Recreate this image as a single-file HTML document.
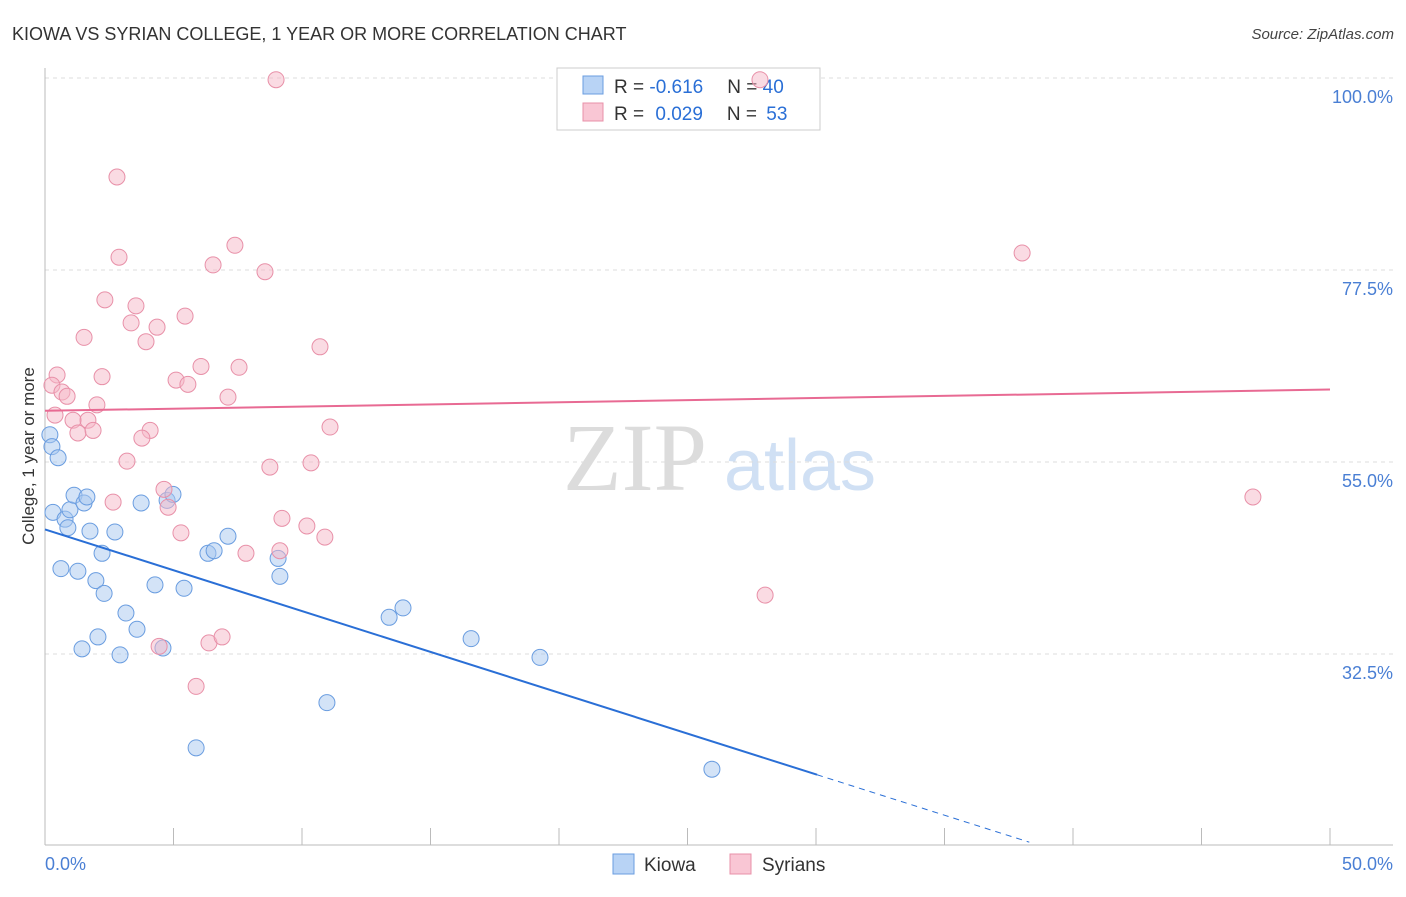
<!DOCTYPE html>
<html><head><meta charset="utf-8">
<style>
body{margin:0;background:#fff;font-family:"Liberation Sans",sans-serif;}
</style></head>
<body>
<svg id="chart" width="1406" height="892" xmlns="http://www.w3.org/2000/svg" font-family="Liberation Sans, sans-serif">
<text x="12" y="40" font-size="18" fill="#333">KIOWA VS SYRIAN COLLEGE, 1 YEAR OR MORE CORRELATION CHART</text>
<text x="1394" y="39" font-size="15" fill="#444" font-style="italic" text-anchor="end">Source: ZipAtlas.com</text>
<g>
<text x="635" y="490" font-size="96" fill="#dcdcdc" font-family="Liberation Serif, serif" text-anchor="middle">ZIP</text>
<text x="800" y="490" font-size="72" fill="#d0e0f4" text-anchor="middle">atlas</text>
</g>
<g id="grid"></g>
<g id="axes"></g>
<g>
<rect x="557" y="68" width="263" height="62" fill="#fff" stroke="#ccc"/>
<rect x="583" y="76" width="20" height="18" fill="#b8d3f5" stroke="#6a9de0"/>
<rect x="583" y="103" width="20" height="18" fill="#f9c6d4" stroke="#e890a8"/>
<text x="614" y="93" font-size="19" fill="#333">R = <tspan fill="#2a6fd6">-0.616</tspan><tspan dx="24">N = </tspan><tspan fill="#2a6fd6">40</tspan></text>
<text x="614" y="120" font-size="19" fill="#333">R = <tspan dx="6" fill="#2a6fd6">0.029</tspan><tspan dx="24">N = </tspan><tspan dx="4" fill="#2a6fd6">53</tspan></text>
</g>
<g id="marks"></g>
<text transform="translate(34,456) rotate(-90)" font-size="17" fill="#333" text-anchor="middle">College, 1 year or more</text>
<g>
<rect x="613" y="854" width="21" height="20" fill="#b8d3f5" stroke="#6a9de0"/>
<text x="644" y="871" font-size="19" fill="#333">Kiowa</text>
<rect x="730" y="854" width="21" height="20" fill="#f9c6d4" stroke="#e890a8"/>
<text x="762" y="871" font-size="19" fill="#333">Syrians</text>
</g>
</svg>
<script>
const yTicks=[100,77.5,55,32.5];
const yTickLabels=["100.0%","77.5%","55.0%","32.5%"];
const xTickLabels=["0.0%","50.0%"];
const kiowaX=[0.19,0.27,0.51,0.31,0.78,0.89,0.97,1.13,1.52,1.63,1.75,0.62,1.28,1.98,2.22,2.30,2.72,3.15,2.06,1.44,2.92,3.58,4.59,3.74,4.75,4.98,4.28,5.41,6.34,6.58,7.12,9.07,9.14,5.88,10.97,13.39,13.93,16.58,19.26,25.95];
const kiowaY=[58.2,56.8,55.5,49.1,48.3,47.3,49.4,51.1,50.2,50.9,46.9,42.5,42.2,41.1,44.3,39.6,46.8,37.3,34.5,33.1,32.4,35.4,33.2,50.2,50.5,51.2,40.6,40.2,44.3,44.6,46.3,43.7,41.6,21.5,26.8,36.8,37.9,34.3,32.1,19.0];
const syrX=[8.99,27.82,2.80,2.88,7.39,6.54,8.56,38.02,2.33,3.54,3.35,4.36,5.45,1.52,3.93,10.70,0.47,2.22,5.10,5.56,6.07,7.55,7.12,0.27,0.66,0.86,2.02,1.67,1.09,1.28,1.87,4.09,3.77,11.09,3.19,8.75,10.35,2.65,4.63,4.79,9.22,10.19,10.89,5.29,7.82,9.14,47.0,28.02,4.44,6.38,6.89,5.88,0.39];
const syrY=[99.8,99.8,88.4,79.0,80.4,78.1,77.3,79.5,74.0,73.3,71.3,70.8,72.1,69.6,69.1,68.5,65.2,65.0,64.6,64.1,66.2,66.1,62.6,64.0,63.2,62.7,61.7,59.9,59.9,58.4,58.7,58.7,57.8,59.1,55.1,54.4,54.9,50.3,51.8,49.7,48.4,47.5,46.2,46.7,44.3,44.6,50.9,39.4,33.4,33.8,34.5,28.7,60.5];
const kiowaTrend=[47.1,-0.957];
const syrTrend=[61.0,0.05];
const NS="http://www.w3.org/2000/svg";
const X=v=>45+v*25.7, Y=v=>654-(v-32.5)*8.533;
function mk(t,a,p){const e=document.createElementNS(NS,t);for(const k in a)e.setAttribute(k,a[k]);document.getElementById(p).appendChild(e);return e;}
yTicks.forEach((t,i)=>{
 const g=mk('line',{x1:45,x2:1393,y1:Y(t),y2:Y(t),stroke:'#ddd','stroke-dasharray':'4,4'},'grid');
 
 
 const l=mk('text',{x:1393,y:Y(t)+25,'font-size':18,fill:'#4a7fd4','text-anchor':'end'},'axes');
 l.textContent=yTickLabels[i];
 
 
});
let a=mk('line',{x1:45,x2:1393,y1:845,y2:845,stroke:'#bbb'},'axes');

a=mk('line',{x1:45,x2:45,y1:68,y2:845,stroke:'#bbb'},'axes');

for(let i=0;i<=10;i++){const t=mk('line',{x1:X(i*5),x2:X(i*5),y1:828,y2:845,stroke:'#bbb'},'axes');
 }
[[0,'start',45],[50,'end',1393]].forEach((d,i)=>{const t=mk('text',{x:d[2],y:870,'font-size':18,fill:'#4a7fd4','text-anchor':d[1]},'axes');
 t.textContent=xTickLabels[i];});
kiowaX.forEach((x,i)=>{const c=mk('circle',{cx:X(x),cy:Y(kiowaY[i]),r:8,fill:'rgba(168,200,240,0.5)',stroke:'#6a9de0','stroke-width':1},'marks');
 });
syrX.forEach((x,i)=>{const c=mk('circle',{cx:X(x),cy:Y(syrY[i]),r:8,fill:'rgba(245,184,200,0.5)',stroke:'#e890a8','stroke-width':1},'marks');
 });
const kEnd=30.04, kDash=38.3;
let ln=mk('line',{x1:X(0),y1:Y(kiowaTrend[0]),x2:X(kEnd),y2:Y(kiowaTrend[0]+kiowaTrend[1]*kEnd),stroke:'#2a6fd6','stroke-width':2},'marks');

ln=mk('line',{x1:X(kEnd),y1:Y(kiowaTrend[0]+kiowaTrend[1]*kEnd),x2:X(kDash),y2:Y(kiowaTrend[0]+kiowaTrend[1]*kDash),stroke:'#2a6fd6','stroke-width':1,'stroke-dasharray':'6,5'},'marks');

ln=mk('line',{x1:X(0),y1:Y(syrTrend[0]),x2:X(50),y2:Y(syrTrend[0]+syrTrend[1]*50),stroke:'#e86a93','stroke-width':2},'marks');

</script>
</body></html>
